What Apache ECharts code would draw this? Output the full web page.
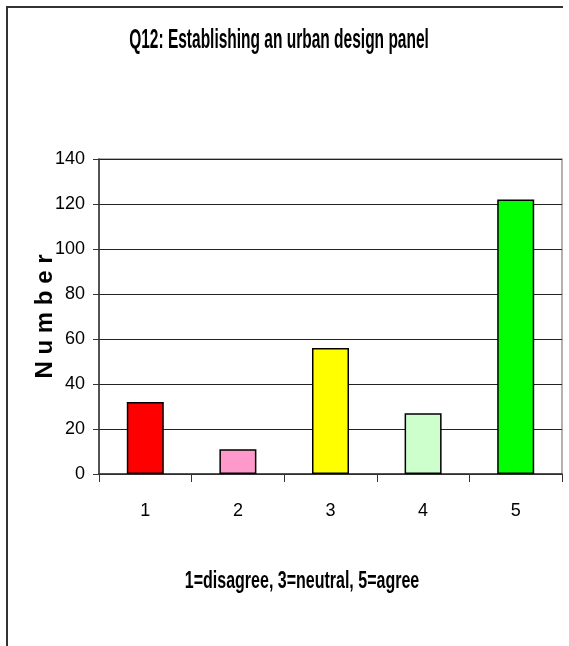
<!DOCTYPE html>
<html>
<head>
<meta charset="utf-8">
<script src="https://cdn.jsdelivr.net/npm/echarts@6/dist/echarts.min.js"></script>
<style>
  html, body { margin: 0; padding: 0; background: #fff; }
  #chart { width: 569px; height: 646px; }
</style>
</head>
<body>
<div id="chart"></div>
<script>
const titleText = 'Q12: Establishing an urban design panel';
const xAxisTitle = '1=disagree, 3=neutral, 5=agree';
const yAxisTitle = 'N u m b e r';
const categories = ['1', '2', '3', '4', '5'];
const values = [32, 11, 56, 27, 122];
const barColors = ['#FF0000', '#FF99CC', '#FFFF00', '#CCFFCC', '#00FF00'];
const yMin = 0, yMax = 140, yStep = 20;

const sans = "'Liberation Sans', Arial, sans-serif";
const chart = echarts.init(document.getElementById('chart'), null, { renderer: 'canvas' });

chart.setOption({
  backgroundColor: '#fff',
  animation: false,
  grid: {
    left: 99, top: 159, right: 7, bottom: 172,
    show: true, borderColor: '#999', borderWidth: 1.5,
    containLabel: false, outerBoundsMode: 'none'
  },
  xAxis: {
    type: 'category',
    data: categories,
    axisLine: { show: true, lineStyle: { color: '#333', width: 1.5 } },
    axisTick: { show: true, alignWithLabel: false, length: 8, inside: false, lineStyle: { color: '#333', width: 1 } },
    axisLabel: { margin: 28, fontFamily: sans, fontSize: 18, color: '#000' },
    splitLine: { show: false }
  },
  yAxis: {
    type: 'value',
    min: yMin, max: yMax, interval: yStep,
    name: yAxisTitle,
    nameLocation: 'middle',
    nameRotate: 90,
    nameGap: 42,
    nameMoveOverlap: false,
    nameTextStyle: { fontFamily: sans, fontWeight: 'bold', fontSize: 24, color: '#000' },
    axisLine: { show: true, lineStyle: { color: '#333', width: 1.5 } },
    axisTick: { show: true, length: 6, lineStyle: { color: '#333', width: 1 } },
    axisLabel: { margin: 14, fontFamily: sans, fontSize: 18, color: '#000' },
    splitLine: { show: true, lineStyle: { color: '#222', width: 1 } }
  },
  series: [{
    type: 'bar',
    data: values.map((v, i) => ({ value: v, itemStyle: { color: barColors[i] } })),
    barWidth: 37,
    itemStyle: { borderColor: '#000', borderWidth: 1.5 }
  }],
  graphic: [
    {
      type: 'polyline',
      shape: { points: [[7, 660], [7, 7], [563, 7]] },
      style: { stroke: '#333', lineWidth: 2, fill: null }
    },
    {
      type: 'text',
      x: 279, y: 40,
      scaleX: 1, scaleY: 1.8,
      originX: 0, originY: 0,
      style: {
        text: titleText,
        font: "bold 15.5px 'Liberation Sans', Arial, sans-serif",
        fill: '#000', align: 'center', verticalAlign: 'middle',
        textAlign: 'center', textVerticalAlign: 'middle'
      }
    },
    {
      type: 'text',
      x: 302, y: 581,
      scaleX: 1, scaleY: 1.5,
      originX: 0, originY: 0,
      style: {
        text: xAxisTitle,
        font: "bold 16px 'Liberation Sans', Arial, sans-serif",
        fill: '#000', align: 'center', verticalAlign: 'middle',
        textAlign: 'center', textVerticalAlign: 'middle'
      }
    }
  ]
});
</script>
</body>
</html>
